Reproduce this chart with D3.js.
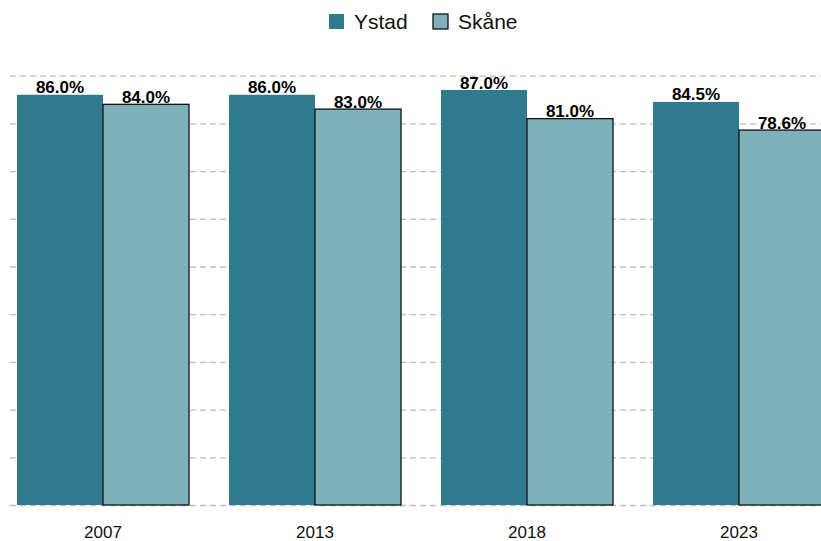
<!DOCTYPE html>
<html><head><meta charset="utf-8">
<script src="https://cdn.jsdelivr.net/npm/d3@7"></script>
<style>body{margin:0;background:#fff}svg{display:block}</style>
</head><body>
<svg id="c" width="821" height="541"></svg>
<script>
const years = ["2007","2013","2018","2023"];
const seriesNames = ["Ystad","Skåne"];
const ystad = [86.0, 86.0, 87.0, 84.5];
const skane = [84.0, 83.0, 81.0, 78.6];
const gridTicks = [0,10,20,30,40,50,60,70,80,90];
const colors = ["#2f7a8c","#7eb1ba"];

const svg = d3.select("#c");
const font = "'Liberation Sans', Arial, sans-serif";
const y = d3.scaleLinear().domain([0,100]).range([505, 28]);
const x = d3.scaleBand().domain(years).range([-3,845]).paddingInner(40/212).paddingOuter(20/212);
const xs = d3.scaleBand().domain(seriesNames).range([0, x.bandwidth()]);

svg.append("g").selectAll("line").data(gridTicks).join("line")
  .attr("x1",10).attr("x2",821)
  .attr("y1",d=>y(d)+0.5).attr("y2",d=>y(d)+0.5)
  .attr("stroke","#bdbdbd").attr("stroke-width",1.3).attr("stroke-dasharray","6,4");

const data = [];
years.forEach((yr,i)=>{
  data.push({yr, s:"Ystad", v:ystad[i]});
  data.push({yr, s:"Skåne", v:skane[i]});
});

svg.append("g").selectAll("rect").data(data).join("rect")
  .attr("x",d=>x(d.yr)+xs(d.s))
  .attr("width",xs.bandwidth())
  .attr("y",d=>y(d.v))
  .attr("height",d=>y(0)-y(d.v))
  .attr("fill",d=>d.s==="Ystad"?colors[0]:colors[1])
  .attr("stroke",d=>d.s==="Ystad"?"none":"#111")
  .attr("stroke-width",1.3);

svg.append("g").selectAll("text").data(data).join("text")
  .attr("x",d=>x(d.yr)+xs(d.s)+xs.bandwidth()/2)
  .attr("y",d=>y(d.v)-1.5)
  .attr("text-anchor","middle")
  .attr("font-family",font).attr("font-weight","bold").attr("font-size",17)
  .attr("fill","#000")
  .text(d=>d.v.toFixed(1)+"%");

svg.append("g").selectAll("text").data(years).join("text")
  .attr("x",d=>x(d)+x.bandwidth()/2)
  .attr("y",537.5)
  .attr("text-anchor","middle")
  .attr("font-family",font).attr("font-size",17)
  .attr("fill","#111")
  .text(d=>d);

const legX = [329, 433];
const lg = svg.append("g").selectAll("g").data(seriesNames).join("g")
  .attr("transform",(d,i)=>`translate(${legX[i]},14)`);
lg.append("rect").attr("width",15).attr("height",15)
  .attr("fill",(d,i)=>colors[i])
  .attr("stroke",(d,i)=>i===0?"none":"#111").attr("stroke-width",1.3);
lg.append("text").attr("x",25).attr("y",15)
  .attr("font-family",font).attr("font-size",21).attr("fill","#111")
  .text(d=>d);
</script>
</body></html>
